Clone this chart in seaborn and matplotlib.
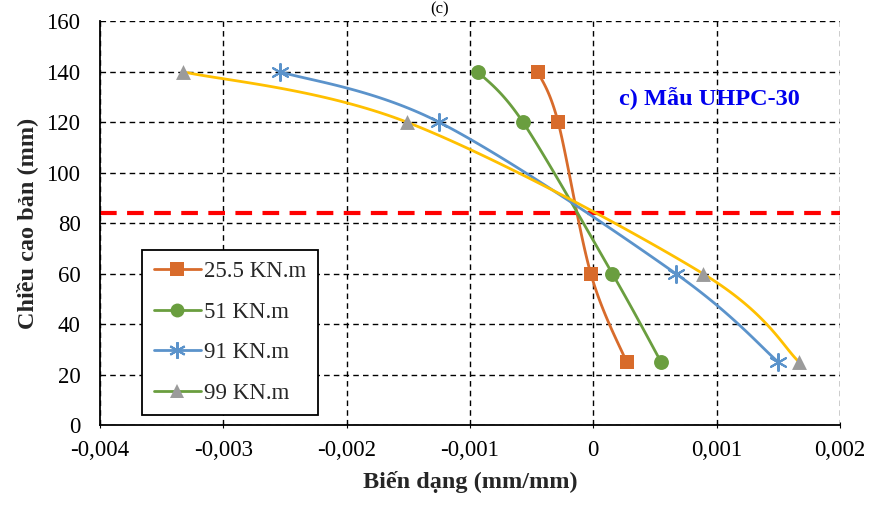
import numpy as np
import pandas as pd
import matplotlib
matplotlib.use("Agg")
import matplotlib.pyplot as plt
import seaborn as sns
from matplotlib.lines import Line2D

sns.set_style("white")
plt.rcParams['font.family'] = ['Liberation Serif', 'DejaVu Serif']

heights = [140, 120, 60, 25]
strain_255 = [-0.00045, -0.000285, -0.00002, 0.00027]
strain_51 = [-0.000935, -0.00057, 0.000155, 0.00055]
strain_91 = [-0.00254, -0.00125, 0.00067, 0.0015]
strain_99 = [-0.00333, -0.00151, 0.00089, 0.00167]
labels = ["25.5 KN.m", "51 KN.m", "91 KN.m", "99 KN.m"]
neutral_axis = 84

line_colors = ["#D86B2B", "#6A9E3F", "#5B93CB", "#FFC000"]
marker_colors = ["#D86B2B", "#6A9E3F", "#5B93CB", "#9B9B9B"]
legend_line_colors = ["#D86B2B", "#6A9E3F", "#5B93CB", "#6A9E3F"]
star = (6, 2, 0)
markers = ["s", "o", star, "^"]


def smooth(xs, ys, n=40):
    # Excel-like smoothed line (cubic bezier through points)
    p = np.column_stack([xs, ys]).astype(float)
    p = np.vstack([p[0], p, p[-1]])
    out = []
    for i in range(1, len(p) - 2):
        p0, p1, p2, p3 = p[i - 1], p[i], p[i + 1], p[i + 2]
        c1 = p1 + (p2 - p0) / 6
        c2 = p2 - (p3 - p1) / 6
        t = np.linspace(0, 1, n)[:, None]
        seg = ((1 - t) ** 3) * p1 + 3 * ((1 - t) ** 2) * t * c1 + 3 * (1 - t) * t ** 2 * c2 + t ** 3 * p2
        out.append(seg)
    out = np.vstack(out)
    return out[:, 0], out[:, 1]


fig = plt.figure(figsize=(8.74, 5.05), dpi=100)
ax = fig.add_axes([0.1144, 0.158, 0.8466, 0.8])

series = [strain_255, strain_51, strain_91, strain_99]
for i, s in enumerate(series):
    sx, sy = smooth(s, heights)
    curve = pd.DataFrame({"x": sx, "y": sy})
    sns.lineplot(data=curve, x="x", y="y", sort=False, color=line_colors[i],
                 linewidth=2, ax=ax, zorder=3)
    pts = pd.DataFrame({"x": s, "y": heights})
    if markers[i] is star:
        sns.scatterplot(data=pts, x="x", y="y", marker=star, s=150,
                        color=marker_colors[i], linewidth=1.5, ax=ax, zorder=4)
    else:
        sns.scatterplot(data=pts, x="x", y="y", marker=markers[i], s=115,
                        color=marker_colors[i], edgecolor=marker_colors[i],
                        linewidth=0, ax=ax, zorder=4)

ax.axhline(neutral_axis, color="#FF0000", linestyle=(0, (4, 2.5)), linewidth=3, zorder=2)

ax.set_xlim(-0.004, 0.002)
ax.set_ylim(0, 160)
ax.set_xticks(np.arange(-0.004, 0.0021, 0.001))
ax.set_xticklabels(["-0,004", "-0,003", "-0,002", "-0,001", "0", "0,001", "0,002"])
ax.set_yticks(range(0, 161, 20))
ax.grid(True, color="black", linestyle=(0, (4, 3)), linewidth=1)
for sp in ["top", "right"]:
    ax.spines[sp].set_visible(False)
for sp in ["left", "bottom"]:
    ax.spines[sp].set_color("black")
    ax.spines[sp].set_linewidth(1.3)
ax.tick_params(labelsize=16.5, colors="black", length=4, direction="inout", bottom=True, left=False)
ax.tick_params(axis="x", pad=9)
ax.tick_params(axis="y", pad=12)

ax.set_xlabel("Biến dạng (mm/mm)", fontsize=17.5, fontweight="bold", labelpad=7)
ax.set_ylabel("Chiều cao bản (mm)", fontsize=17.5, fontweight="bold", labelpad=6)

ax.text(0.00094, 129.5, "c) Mẫu UHPC-30", color="#0000EE", fontsize=17.5,
        fontweight="bold", ha="center", va="center")

handles = [Line2D([0], [0], color=legend_line_colors[i], linewidth=2,
                  marker=markers[i], markersize=10 if markers[i] is not star else 12,
                  markerfacecolor=marker_colors[i], markeredgecolor=marker_colors[i],
                  markeredgewidth=1.5 if markers[i] is star else 0)
           for i in range(4)]
leg = ax.legend(handles, labels, loc="lower left", bbox_to_anchor=(0.057, 0.025),
                fontsize=16.5, frameon=True, fancybox=False, edgecolor="black",
                framealpha=1, handlelength=2.05, labelspacing=0.85, borderpad=0.5,
                handletextpad=0.15, borderaxespad=0)
leg.get_frame().set_linewidth(1.3)

fig.text(0.503, 0.998, "(c)", fontsize=12, ha="center", va="top", color="black")

fig.savefig("out.png", dpi=100)
